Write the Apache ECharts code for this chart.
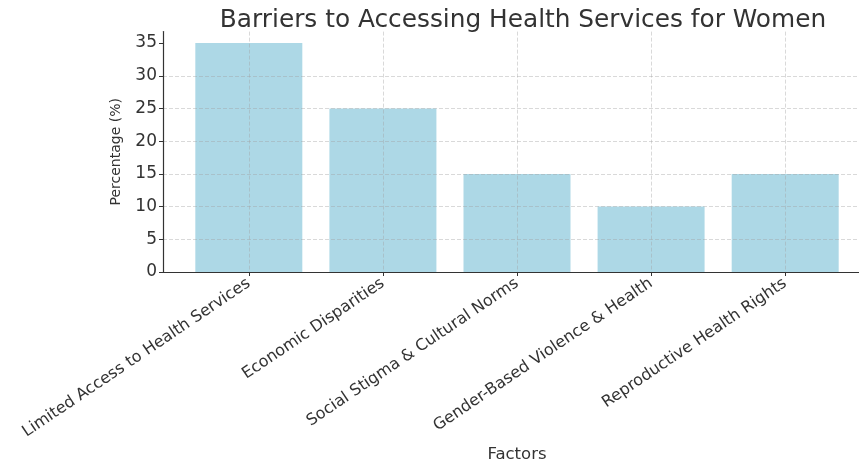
<!DOCTYPE html>
<html>
<head>
<meta charset="utf-8">
<script src="https://cdn.jsdelivr.net/npm/echarts@6/dist/echarts.min.js"></script>
<style>html,body{margin:0;padding:0;background:#fff;}#c{width:859px;height:459px;}</style>
</head>
<body>
<div id="c"></div>
<script>
const categories = ["Limited Access to Health Services", "Economic Disparities", "Social Stigma & Cultural Norms", "Gender-Based Violence & Health", "Reproductive Health Rights"];
const values = [35, 25, 15, 10, 15];
const yTicks = [0, 5, 10, 15, 20, 25, 30, 35];

const chart = echarts.init(document.getElementById('c'), null, {renderer: 'canvas'});
const font = "'DejaVu Sans', sans-serif";
const catIdx = categories.map((c, i) => i);
const gridLine = {show: true, lineStyle: {type: [4, 2], color: 'rgba(160,160,160,0.5)', width: 0.8}};
chart.setOption({
  animation: false,
  backgroundColor: '#ffffff',
  title: {
    text: 'Barriers to Accessing Health Services for Women',
    left: 518, top: 3, textAlign: 'center',
    textStyle: {fontFamily: font, fontSize: 24.8, fontWeight: 'normal', color: '#333'}
  },
  grid: {left: 163, right: -12, top: 31.6, bottom: 187, containLabel: false, outerBoundsMode: 'none'},
  xAxis: {
    type: 'value', min: -0.64, max: 4.64, interval: 1, z: 5,
    name: 'Factors', nameLocation: 'middle', nameGap: 170,
    nameTextStyle: {fontFamily: font, fontSize: 16.5, color: '#333'},
    axisLine: {show: true, onZero: false, lineStyle: {color: '#333', width: 1.2}},
    axisTick: {show: true, customValues: catIdx, length: 4, lineStyle: {color: '#333'}},
    axisLabel: {customValues: catIdx, rotate: 34, margin: 10, fontFamily: font, fontSize: 16, color: '#333',
      formatter: v => categories[Math.round(v)] || ''},
    splitLine: gridLine
  },
  yAxis: {
    type: 'value', min: 0, max: 36.75, interval: 5, z: 5,
    name: 'Percentage (%)', nameLocation: 'middle', nameGap: 40, nameRotate: 90,
    nameTextStyle: {fontFamily: font, fontSize: 14, color: '#333'},
    axisLine: {show: true, onZero: false, lineStyle: {color: '#333', width: 1.2}},
    axisTick: {show: true, customValues: yTicks, length: 4, lineStyle: {color: '#333'}},
    axisLabel: {customValues: yTicks, margin: 6, fontFamily: font, fontSize: 17, color: '#333'},
    splitLine: {show: true, showMinLine: false, showMaxLine: false, lineStyle: gridLine.lineStyle}
  },
  series: [{
    type: 'bar',
    data: values.map((v, i) => [i, v]),
    barWidth: 107,
    itemStyle: {color: '#ADD8E6'},
    z: 1
  }]
});
</script>
</body>
</html>
